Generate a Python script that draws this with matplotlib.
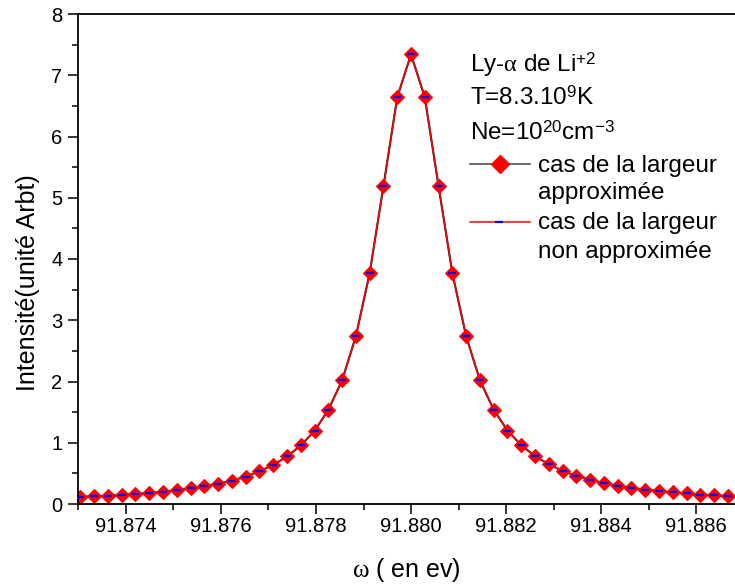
import matplotlib
matplotlib.use("Agg")
import matplotlib.pyplot as plt
from matplotlib.lines import Line2D
from matplotlib.ticker import MultipleLocator, FormatStrFormatter

plt.rcParams["font.family"] = ["Liberation Sans", "DejaVu Sans"]
plt.rcParams["mathtext.fontset"] = "custom"
plt.rcParams["mathtext.rm"] = "Liberation Sans"
plt.rcParams["mathtext.it"] = "Liberation Serif"

# energy grid (eV), step ~0.00029 around 91.880
omega = [
    91.87304, 91.87333, 91.87362, 91.87391, 91.87420, 91.87449, 91.87478, 91.87507,
    91.87536, 91.87565, 91.87594, 91.87623, 91.87652, 91.87681, 91.87710, 91.87739,
    91.87768, 91.87797, 91.87826, 91.87855, 91.87884, 91.87913, 91.87942, 91.87971,
    91.88000,
    91.88029, 91.88058, 91.88087, 91.88116, 91.88145, 91.88174, 91.88203, 91.88232,
    91.88261, 91.88290, 91.88319, 91.88348, 91.88377, 91.88406, 91.88435, 91.88464,
    91.88493, 91.88522, 91.88551, 91.88580, 91.88609, 91.88638, 91.88667, 91.88696,
]

# intensity, approximated width
i_approx = [
    0.116, 0.126, 0.136, 0.152, 0.163, 0.180, 0.198, 0.226,
    0.256, 0.294, 0.328, 0.382, 0.446, 0.536, 0.636, 0.776,
    0.956, 1.196, 1.536, 2.02, 2.74, 3.77, 5.19, 6.64,
    7.34,
    6.64, 5.19, 3.77, 2.74, 2.02, 1.54, 1.20, 0.96,
    0.78, 0.65, 0.54, 0.46, 0.40, 0.34, 0.30, 0.262,
    0.235, 0.212, 0.190, 0.173, 0.155, 0.143, 0.130, 0.120,
]

# intensity, non-approximated width (same curve)
i_exact = list(i_approx)

fig = plt.figure(figsize=(7.35, 5.86), dpi=100)
ax = fig.add_axes([78 / 735, 82 / 586, 657 / 735, 490 / 586])

ax.plot(omega, i_approx, color="#202020", lw=1.5, marker="D", ms=7,
        mfc="red", mec="red", mew=0.8, zorder=2)
ax.plot(omega, i_exact, color="red", lw=1.1, marker="_", ms=6,
        mec="blue", mew=1.6, zorder=3)

ax.set_xlim(91.87299, 91.88682)
ax.set_ylim(0, 8)

ax.xaxis.set_major_locator(MultipleLocator(0.002))
ax.xaxis.set_minor_locator(MultipleLocator(0.001))
ax.xaxis.set_major_formatter(FormatStrFormatter("%.3f"))
ax.yaxis.set_major_locator(MultipleLocator(1))
ax.yaxis.set_minor_locator(MultipleLocator(0.5))

ax.tick_params(which="both", direction="out", width=1.1, labelsize=14.5,
               top=False, right=False)
ax.tick_params(which="major", length=7.2)
ax.tick_params(which="minor", length=4.3)
ax.tick_params(axis="x", pad=2.5)
ax.tick_params(axis="y", pad=4)

for s in ["left", "bottom", "top"]:
    ax.spines[s].set_linewidth(1.3)
ax.spines["right"].set_visible(False)

ax.set_ylabel("Intensité(unité Arbt)", fontsize=18, va="center")
ax.yaxis.set_label_coords((28 - 78) / 657, (504 - 283) / 490)
ax.set_xlabel(r"$\omega$ ( en ev)", fontsize=18, va="center")
ax.xaxis.set_label_coords(0.5, (504 - 570) / 490)


def fx(px):
    return px / 735


def fy(py):
    return 1 - py / 586


fs = 17.5
fig.text(fx(470), fy(72), r"Ly-$\alpha$ de Li$^{+2}$", fontsize=fs, va="baseline")
fig.text(fx(470), fy(105), r"T=8.3.10$^9$K", fontsize=fs, va="baseline")
fig.text(fx(470), fy(140), r"Ne=10$^{20}$cm$^{-3}$", fontsize=fs, va="baseline")
fig.text(fx(538), fy(172), "cas de la largeur", fontsize=fs, va="baseline")
fig.text(fx(538), fy(199), "approximée", fontsize=fs, va="baseline")
fig.text(fx(538), fy(229), "cas de la largeur", fontsize=fs, va="baseline")
fig.text(fx(538), fy(258), "non approximée", fontsize=fs, va="baseline")

fig.add_artist(Line2D([fx(470), fx(530)], [fy(164), fy(164)], color="#404040", lw=1.1,
                      transform=fig.transFigure))
fig.add_artist(Line2D([fx(500)], [fy(164)], marker="D", ms=9, mfc="red", mec="red",
                      transform=fig.transFigure))
fig.add_artist(Line2D([fx(470), fx(530)], [fy(222), fy(222)], color="red", lw=1.1,
                      transform=fig.transFigure))
fig.add_artist(Line2D([fx(499)], [fy(222)], marker="_", ms=6, mec="blue", mew=1.6,
                      transform=fig.transFigure))

fig.savefig("out.png", dpi=100)
